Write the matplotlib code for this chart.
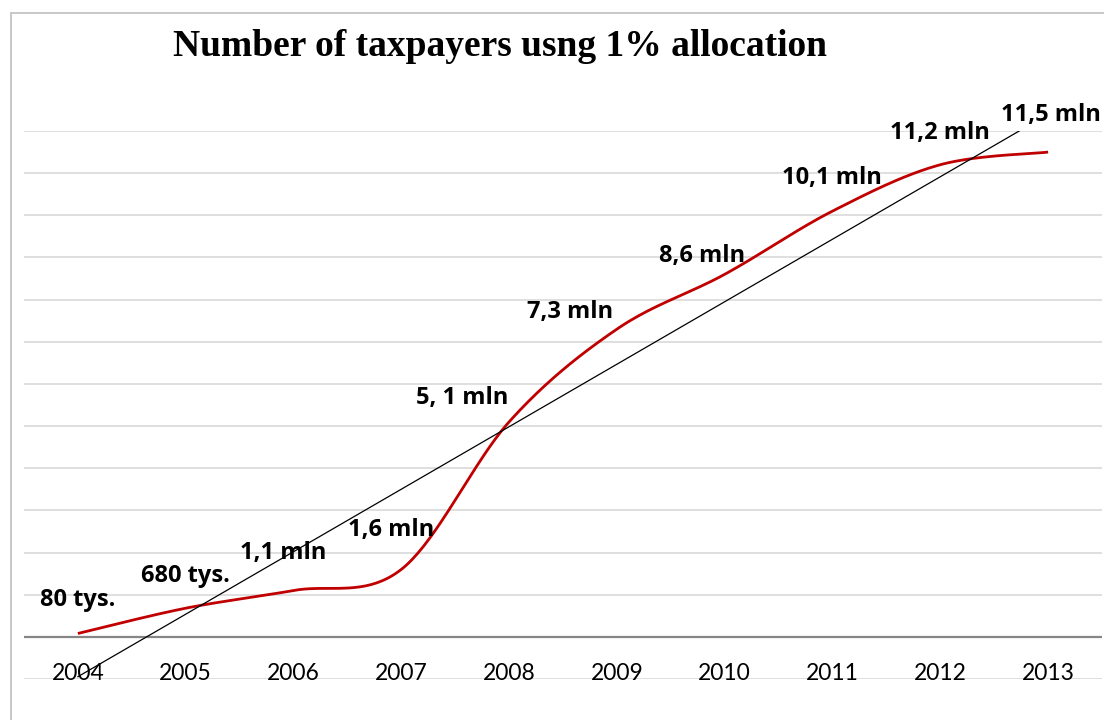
import numpy as np
import matplotlib
matplotlib.use("Agg")
import matplotlib.pyplot as plt
from matplotlib.patches import Rectangle

# ---- data ----
years = ["2004", "2005", "2006", "2007", "2008", "2009", "2010", "2011", "2012", "2013"]
values = [0.08, 0.68, 1.1, 1.6, 5.1, 7.3, 8.6, 10.1, 11.2, 11.5]   # mln taxpayers
labels = ["80 tys.", "680 tys.", "1,1 mln", "1,6 mln", "5, 1 mln", "7,3 mln",
          "8,6 mln", "10,1 mln", "11,2 mln", "11,5 mln"]
title = "Number of taxpayers usng 1% allocation"

# label offsets in pixels (layout only)
label_offsets = [(0, 33), (0, 32), (-10, 37), (-10, 39), (-47, 24), (-47, 17),
                 (-23, 18), (-1, 33), (0, 32), (3, 37)]

W, H, DPI = 1104, 720, 100
fig = plt.figure(figsize=(W / DPI, H / DPI), dpi=DPI)
fig.patch.set_facecolor("white")

# outer chart border (extends past right/bottom edges like the reference)
fig.patches.append(Rectangle((11 / W, -0.1), 1.2, (H - 13) / H + 0.1,
                             transform=fig.transFigure, fill=False,
                             edgecolor="#BFBFBF", linewidth=1.2))

ax = fig.add_axes([24 / W, 41 / H, 1078 / W, 548 / H])
x = np.arange(len(years))
ax.set_xlim(-0.5, len(years) - 0.5)
ax.set_ylim(-1, 12)
ax.set_yticks(np.arange(-1, 13, 1))
ax.set_xticks([])
ax.tick_params(left=False, labelleft=False)
for s in ax.spines.values():
    s.set_visible(False)
ax.grid(axis="y", color="#D9D9D9", linewidth=1.2)
ax.set_axisbelow(True)
ax.axhline(0, color="#868686", linewidth=1.6, zorder=1)

# Excel-like smoothed line (Catmull-Rom / cardinal Bezier)
y = np.asarray(values, dtype=float)
xs, ys = [], []
n = len(x)
for i in range(n - 1):
    p0 = (x[max(i - 1, 0)], y[max(i - 1, 0)])
    p1 = (x[i], y[i])
    p2 = (x[i + 1], y[i + 1])
    p3 = (x[min(i + 2, n - 1)], y[min(i + 2, n - 1)])
    c1 = (p1[0] + (p2[0] - p0[0]) / 6, p1[1] + (p2[1] - p0[1]) / 6)
    c2 = (p2[0] - (p3[0] - p1[0]) / 6, p2[1] - (p3[1] - p1[1]) / 6)
    t = np.linspace(0, 1, 40)
    bx = (1 - t) ** 3 * p1[0] + 3 * (1 - t) ** 2 * t * c1[0] + 3 * (1 - t) * t ** 2 * c2[0] + t ** 3 * p2[0]
    by = (1 - t) ** 3 * p1[1] + 3 * (1 - t) ** 2 * t * c1[1] + 3 * (1 - t) * t ** 2 * c2[1] + t ** 3 * p2[1]
    xs.extend(bx)
    ys.extend(by)
ax.plot(xs, ys, color="#C00000", linewidth=2.0, solid_capstyle="butt", zorder=3)

# linear trend line
coef = np.polyfit(x, y, 1)
tx = np.array([0, n - 1])
ax.plot(tx, np.polyval(coef, tx), color="black", linewidth=0.9, zorder=4)

lab_font = ["Open Sans", "DejaVu Sans"]
tick_font = ["Lato", "DejaVu Sans"]
for xi, yi, lab, off in zip(x, y, labels, label_offsets):
    ax.annotate(lab, (xi, yi), xytext=off, textcoords="offset pixels",
                ha="center", va="center", fontsize=17, fontweight="bold",
                family=lab_font, zorder=5, annotation_clip=False)

for xi, yr in zip(x, years):
    ax.annotate(yr, (xi, 0), xytext=(0, -37), textcoords="offset pixels",
                ha="center", va="center", fontsize=16.5, family=tick_font,
                zorder=5, annotation_clip=False)

fig.text(500 / W, 1 - 47 / H, title, ha="center", va="center",
         fontsize=27, fontweight="bold", family=["Liberation Serif", "DejaVu Serif"])

fig.savefig("out.png", dpi=DPI)
